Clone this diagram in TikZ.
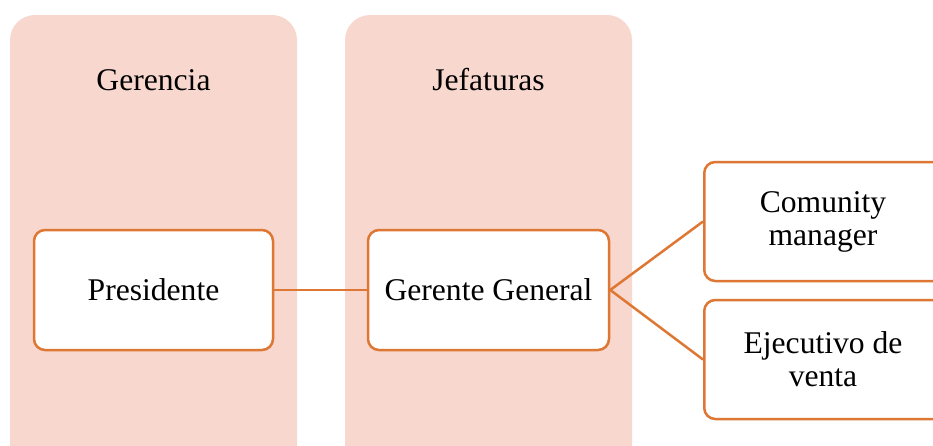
\documentclass[tikz,border=0pt]{standalone}
\usepackage{fontspec}
\setmainfont{Liberation Serif}
\definecolor{colfill}{HTML}{F8D8CE}
\definecolor{boxline}{HTML}{DE7733}
\begin{document}
\begin{tikzpicture}[x=1pt,y=-1pt,
  column/.style={fill=colfill,draw=none,rounded corners=25pt},
  unit/.style={draw=boxline,line width=2.5pt,fill=white,rounded corners=11pt},
  lbl/.style={font=\fontsize{31.6}{33}\selectfont,align=center,text=black},
  link/.style={draw=boxline,line width=2.5pt}]
\useasboundingbox (0,0) rectangle (933,445);
\begin{scope}
\clip (0,0) rectangle (933,445);
\fill[column] (10,15) rectangle (297,470);
\fill[column] (345,15) rectangle (632,470);
\node[lbl] (gerencia) at (153.5,80) {Gerencia};
\node[lbl] (jefaturas) at (488.5,80) {Jefaturas};
\node[unit,minimum width=239pt,minimum height=120pt] (pres) at (153.5,290) {};
\node[lbl] at (pres.center) {Presidente};
\node[unit,minimum width=241pt,minimum height=120pt] (gg) at (488.5,290) {};
\node[lbl] at (gg.center) {Gerente General};
\node[unit,minimum width=240pt,minimum height=119pt,anchor=west] (cm) at (703,221.5) {};
\node[lbl] at (823,221.5) {Comunity\\manager};
\node[unit,minimum width=240pt,minimum height=119pt,anchor=west] (ev) at (703,359.5) {};
\node[lbl] at (823,359.5) {Ejecutivo de\\venta};
\draw[link] (pres.east) -- (gg.west);
\draw[link] (gg.east) -- (cm.west);
\draw[link] (gg.east) -- (ev.west);
\end{scope}
\end{tikzpicture}
\end{document}
